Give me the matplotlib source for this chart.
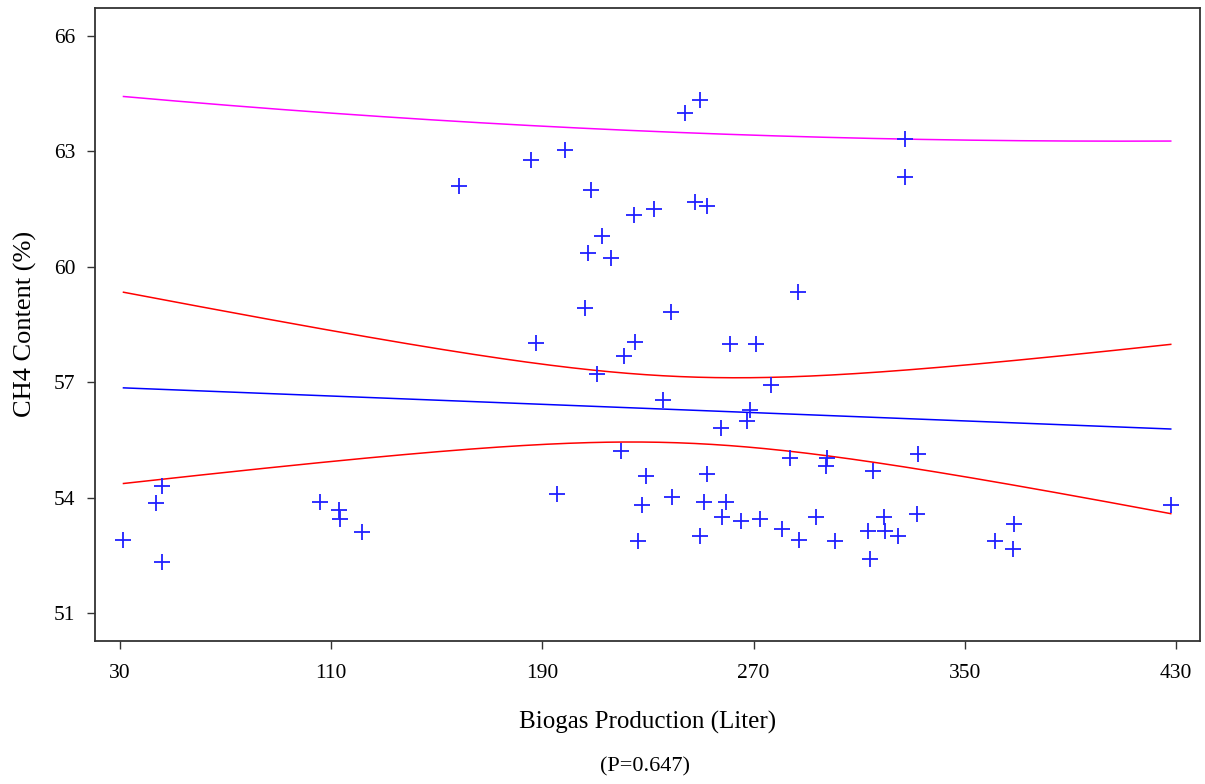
import numpy as np
import matplotlib
matplotlib.use("Agg")
import matplotlib.pyplot as plt

# biogas production (liter) and CH4 content (%)
biogas = [31.4, 43.8, 46.1, 46.1, 105.9, 113.1, 113.5, 121.7,
          158.3, 185.9, 198.7, 208.6, 249.9, 244.2, 224.6, 232.2, 248.0, 252.2,
          212.5, 207.2, 216.1, 206.3, 238.8, 286.9,
          327.3, 327.3,
          187.6, 225.0, 221.0, 210.9, 261.1, 270.8, 276.5, 235.8, 268.6, 267.7,
          257.5, 219.7, 283.7, 195.7, 229.1, 252.2, 227.7, 239.3, 251.1, 259.4,
          258.0, 265.1, 272.3, 280.7, 287.3, 293.5, 226.3, 249.9,
          297.9, 297.6, 315.3, 332.2, 300.7, 313.2, 319.4, 319.8, 324.7, 331.8,
          314.1, 361.3, 368.8, 368.4, 428.0]
ch4 = [52.91, 53.87, 54.29, 52.33, 53.88, 53.69, 53.44, 53.11,
       62.10, 62.78, 63.03, 62.00, 64.34, 63.99, 61.34, 61.51, 61.69, 61.58,
       60.79, 60.35, 60.24, 58.92, 58.82, 59.35,
       63.33, 62.34,
       58.02, 58.04, 57.68, 57.21, 57.99, 57.99, 56.92, 56.55, 56.29, 56.00,
       55.81, 55.22, 55.02, 54.10, 54.55, 54.61, 53.82, 54.01, 53.88, 53.88,
       53.50, 53.39, 53.44, 53.19, 52.91, 53.49, 52.88, 53.01,
       55.03, 54.81, 54.70, 55.13, 52.88, 53.12, 53.50, 53.12, 53.01, 53.58,
       52.40, 52.88, 53.31, 52.67, 53.82]

xticks = [30, 110, 190, 270, 350, 430]
yticks = [51, 54, 57, 60, 63, 66]
t_crit = 1.996  # t(0.975, df=67)

x = np.array(biogas)
y = np.array(ch4)
n = len(x)

# least squares fit with 95% confidence and prediction limits
slope, intercept = np.polyfit(x, y, 1)
resid = y - (intercept + slope * x)
s = np.sqrt(np.sum(resid ** 2) / (n - 2))
sxx = np.sum((x - x.mean()) ** 2)

xs = np.linspace(x.min(), x.max(), 300)
fit = intercept + slope * xs
ci = t_crit * s * np.sqrt(1 / n + (xs - x.mean()) ** 2 / sxx)
pi = t_crit * s * np.sqrt(1 + 1 / n + (xs - x.mean()) ** 2 / sxx)

plt.rcParams['font.family'] = ['Liberation Serif', 'DejaVu Serif']

fig = plt.figure(figsize=(12.05, 7.84), dpi=100)
ax = fig.add_axes([0.0788, 0.1828, 0.9171, 0.807])

ax.plot(xs, pi + fit, color='#ff00ff', lw=1.1)
ax.plot(xs, fit - pi, color='#ff00ff', lw=1.1)
ax.plot(xs, fit + ci, color='#ff0000', lw=1.1)
ax.plot(xs, fit - ci, color='#ff0000', lw=1.1)
ax.plot(xs, fit, color='#0000ff', lw=1.1)
ax.plot(x, y, ls='none', marker='+', ms=11, mew=1.3, color='#2020ff')

ax.set_xlim(20.6, 439.1)
ax.set_ylim(50.28, 66.73)
ax.set_xticks(xticks)
ax.set_yticks(yticks)
ax.tick_params(direction='out', length=6, width=1, colors='#333333',
               labelsize=15.5, labelcolor='black', pad=8)
ax.tick_params(axis='x', pad=11)
for sp in ax.spines.values():
    sp.set_color('#333333')
    sp.set_linewidth(1.3)

ax.set_xlabel('Biogas Production (Liter)', fontsize=18, labelpad=20)
ax.set_ylabel('CH4 Content (%)', fontsize=19, labelpad=12)
fig.text(0.5 + 0.0788 / 2 - 0.004, 0.0217, '(P=0.647)', fontsize=16,
         ha='center', va='center')

fig.savefig('out.png', dpi=100)
